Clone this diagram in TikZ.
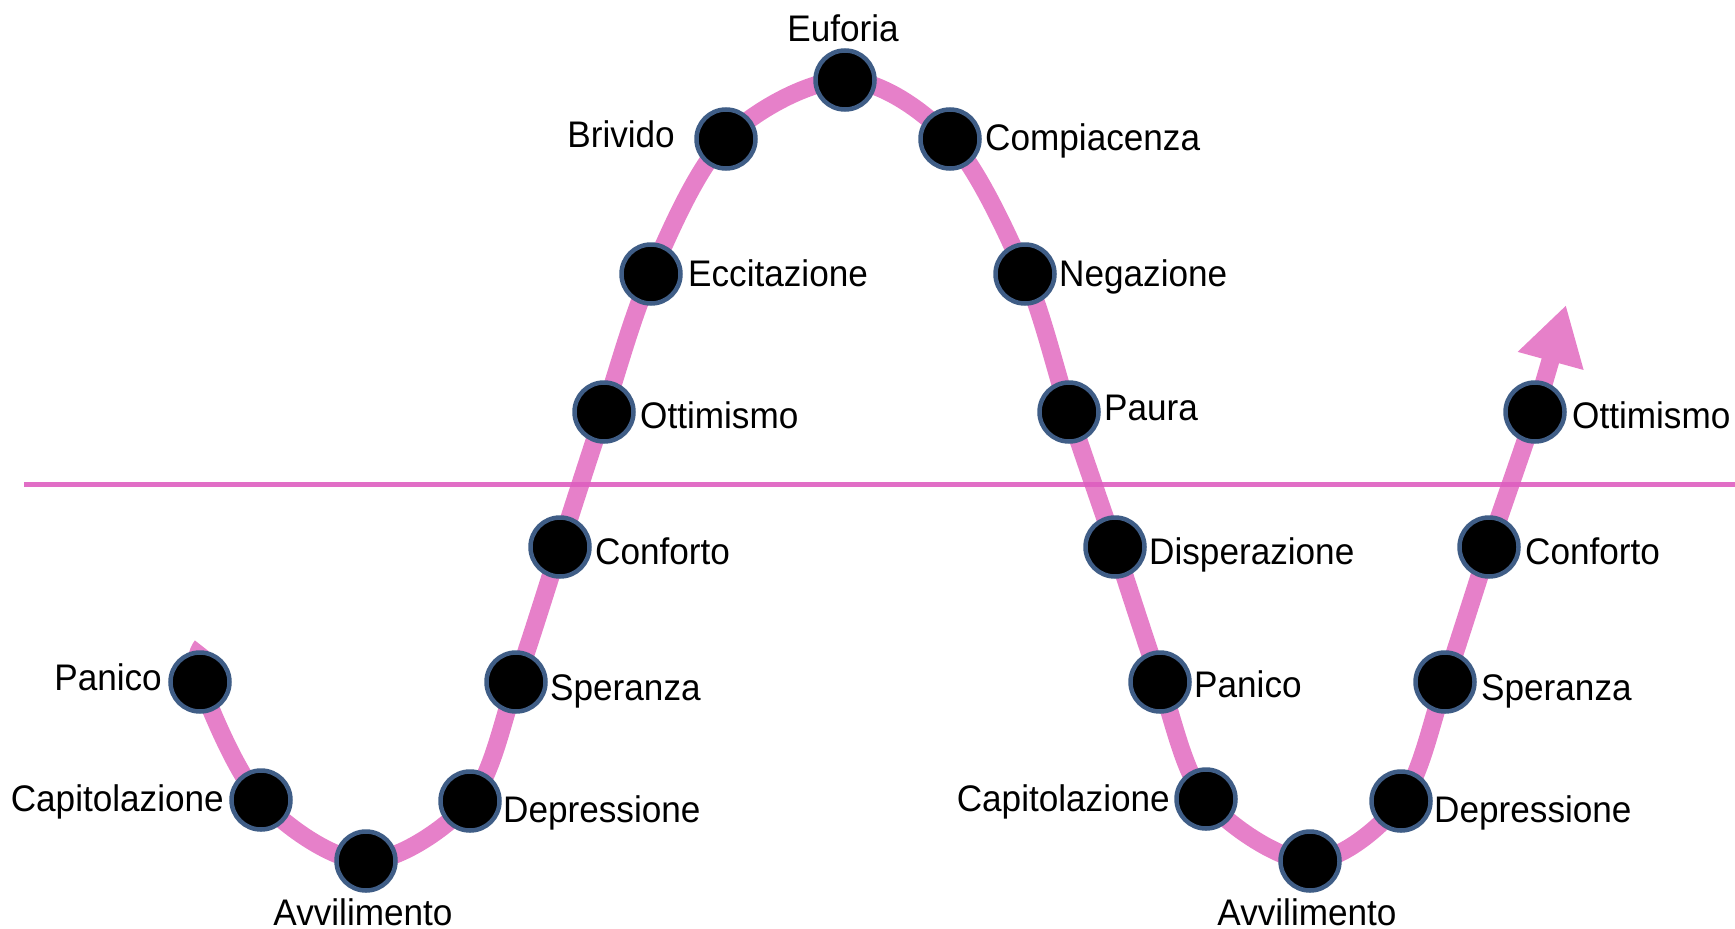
\documentclass[tikz,border=0pt]{standalone}
\usepackage{fontspec}
\setmainfont{Liberation Sans}
\usetikzlibrary{arrows.meta}
\definecolor{curvepink}{HTML}{E680C9}
\definecolor{linepink}{HTML}{DE5EC0}
\definecolor{dotedge}{HTML}{3F5D86}
\newcommand{\lbltext}[1]{\scalebox{0.95}[1]{#1}}
\begin{document}
\begin{tikzpicture}[x=1pt,y=-1pt,
  dot/.style={circle, fill=black, draw=dotedge, line width=4.5pt, minimum size=59pt, inner sep=0pt},
  lbl/.style={font=\fontsize{37}{40}\selectfont, inner sep=0pt, text=black},
  wave/.style={draw=curvepink, line width=18pt},
  axis/.style={draw=linepink, line width=5pt, opacity=0.9},
]
\useasboundingbox (0,0) rectangle (1735,929);
% curve points
\coordinate (s)   at (202,646);
\coordinate (c1)  at (200,682);
\coordinate (c2)  at (261,800);
\coordinate (c3)  at (366,861);
\coordinate (c4)  at (470,801);
\coordinate (c5)  at (516,682);
\coordinate (c6)  at (560,547);
\coordinate (c7)  at (604,412);
\coordinate (c8)  at (651,274);
\coordinate (c9)  at (726,139);
\coordinate (c10) at (845,80);
\coordinate (c11) at (950,139);
\coordinate (c12) at (1025,274);
\coordinate (c13) at (1069,412);
\coordinate (c14) at (1115,547);
\coordinate (c15) at (1160,682);
\coordinate (c16) at (1206,799);
\coordinate (c17) at (1310,861);
\coordinate (c18) at (1401,801);
\coordinate (c19) at (1445,682);
\coordinate (c20) at (1489,547);
\coordinate (c21) at (1535,412);
\coordinate (tip) at (1566,305);

\draw[wave, -{Triangle[width=64pt,length=58pt]}] plot[smooth, tension=0.55] coordinates {(s) (c1) (c2) (c3) (c4) (c5) (c6) (c7) (c8) (c9) (c10) (c11) (c12) (c13) (c14) (c15) (c16) (c17) (c18) (c19) (c20) (c21) (tip)};

\coordinate (axl) at (24,484);
\coordinate (axr) at (1735,484);
\draw[axis] (axl) -- (axr);

\foreach \i in {1,...,21} { \node[dot] (d\i) at (c\i) {}; }

% labels
\node[lbl, anchor=base east] (l1) at (162,690) {\lbltext{Panico}};
\node[lbl, anchor=base east] (l2) at (224,811) {\lbltext{Capitolazione}};
\node[lbl, anchor=base] (l3) at (363,925) {\lbltext{Avvilimento}};
\node[lbl, anchor=base west] (l4) at (503,822) {\lbltext{Depressione}};
\node[lbl, anchor=base west] (l5) at (550,700) {\lbltext{Speranza}};
\node[lbl, anchor=base west] (l6) at (595,564) {\lbltext{Conforto}};
\node[lbl, anchor=base west] (l7) at (640,428) {\lbltext{Ottimismo}};
\node[lbl, anchor=base west] (l8) at (688,286) {\lbltext{Eccitazione}};
\node[lbl, anchor=base east] (l9) at (675,147) {\lbltext{Brivido}};
\node[lbl, anchor=base] (l10) at (843,41) {\lbltext{Euforia}};
\node[lbl, anchor=base west] (l11) at (985,150) {\lbltext{Compiacenza}};
\node[lbl, anchor=base west] (l12) at (1059,286) {\lbltext{Negazione}};
\node[lbl, anchor=base west] (l13) at (1104,420) {\lbltext{Paura}};
\node[lbl, anchor=base west] (l14) at (1149,564) {\lbltext{Disperazione}};
\node[lbl, anchor=base west] (l15) at (1194,697) {\lbltext{Panico}};
\node[lbl, anchor=base east] (l16) at (1170,811) {\lbltext{Capitolazione}};
\node[lbl, anchor=base] (l17) at (1307,925) {\lbltext{Avvilimento}};
\node[lbl, anchor=base west] (l18) at (1434,822) {\lbltext{Depressione}};
\node[lbl, anchor=base west] (l19) at (1481,700) {\lbltext{Speranza}};
\node[lbl, anchor=base west] (l20) at (1525,564) {\lbltext{Conforto}};
\node[lbl, anchor=base west] (l21) at (1572,428) {\lbltext{Ottimismo}};
\end{tikzpicture}
\end{document}
